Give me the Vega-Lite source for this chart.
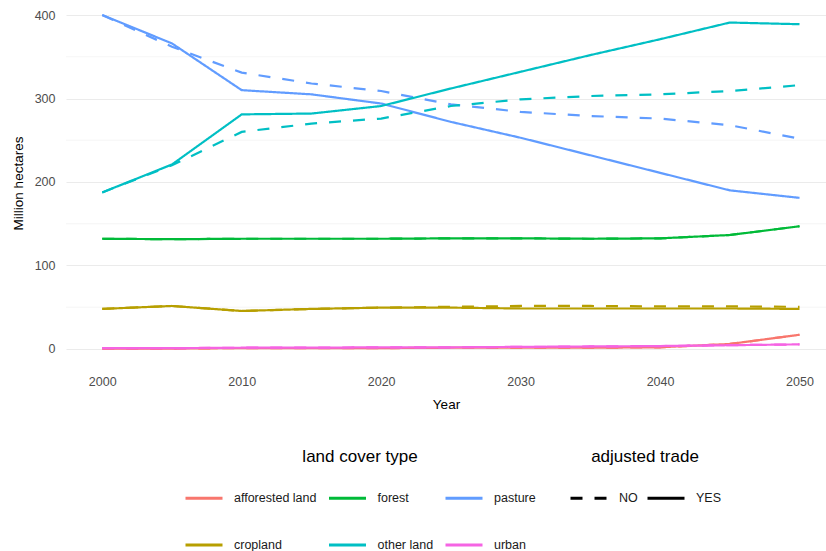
{
  "$schema": "https://vega.github.io/schema/vega-lite/v6.json",
  "width": 760,
  "height": 366,
  "autosize": {"type": "none"},
  "padding": {"left": 66, "top": 0, "right": 0, "bottom": 185},
  "background": "white",
  "config": {"view": {"stroke": null}, "font": "Liberation Sans"},
  "datasets": {
    "minor": [{"value": 50}, {"value": 150}, {"value": 250}, {"value": 350}],
    "lc": [
      {"year": 2000, "type": "afforested land", "trade": "YES", "value": 0.5},
      {"year": 2005, "type": "afforested land", "trade": "YES", "value": 0.5},
      {"year": 2010, "type": "afforested land", "trade": "YES", "value": 1},
      {"year": 2015, "type": "afforested land", "trade": "YES", "value": 1},
      {"year": 2020, "type": "afforested land", "trade": "YES", "value": 1},
      {"year": 2025, "type": "afforested land", "trade": "YES", "value": 1.5},
      {"year": 2030, "type": "afforested land", "trade": "YES", "value": 1.5},
      {"year": 2035, "type": "afforested land", "trade": "YES", "value": 1.5},
      {"year": 2040, "type": "afforested land", "trade": "YES", "value": 2},
      {"year": 2045, "type": "afforested land", "trade": "YES", "value": 6},
      {"year": 2050, "type": "afforested land", "trade": "YES", "value": 17},
      {"year": 2000, "type": "afforested land", "trade": "NO", "value": 0.5},
      {"year": 2005, "type": "afforested land", "trade": "NO", "value": 0.5},
      {"year": 2010, "type": "afforested land", "trade": "NO", "value": 1},
      {"year": 2015, "type": "afforested land", "trade": "NO", "value": 1},
      {"year": 2020, "type": "afforested land", "trade": "NO", "value": 1},
      {"year": 2025, "type": "afforested land", "trade": "NO", "value": 1.5},
      {"year": 2030, "type": "afforested land", "trade": "NO", "value": 1.5},
      {"year": 2035, "type": "afforested land", "trade": "NO", "value": 1.5},
      {"year": 2040, "type": "afforested land", "trade": "NO", "value": 2},
      {"year": 2045, "type": "afforested land", "trade": "NO", "value": 6},
      {"year": 2050, "type": "afforested land", "trade": "NO", "value": 17},
      {"year": 2000, "type": "urban", "trade": "YES", "value": 1},
      {"year": 2005, "type": "urban", "trade": "YES", "value": 1},
      {"year": 2010, "type": "urban", "trade": "YES", "value": 1.5},
      {"year": 2015, "type": "urban", "trade": "YES", "value": 1.5},
      {"year": 2020, "type": "urban", "trade": "YES", "value": 2},
      {"year": 2025, "type": "urban", "trade": "YES", "value": 2},
      {"year": 2030, "type": "urban", "trade": "YES", "value": 2.5},
      {"year": 2035, "type": "urban", "trade": "YES", "value": 3},
      {"year": 2040, "type": "urban", "trade": "YES", "value": 3.5},
      {"year": 2045, "type": "urban", "trade": "YES", "value": 4.5},
      {"year": 2050, "type": "urban", "trade": "YES", "value": 5.5},
      {"year": 2000, "type": "urban", "trade": "NO", "value": 1},
      {"year": 2005, "type": "urban", "trade": "NO", "value": 1},
      {"year": 2010, "type": "urban", "trade": "NO", "value": 1.5},
      {"year": 2015, "type": "urban", "trade": "NO", "value": 1.5},
      {"year": 2020, "type": "urban", "trade": "NO", "value": 2},
      {"year": 2025, "type": "urban", "trade": "NO", "value": 2},
      {"year": 2030, "type": "urban", "trade": "NO", "value": 2.5},
      {"year": 2035, "type": "urban", "trade": "NO", "value": 3},
      {"year": 2040, "type": "urban", "trade": "NO", "value": 3.5},
      {"year": 2045, "type": "urban", "trade": "NO", "value": 4.5},
      {"year": 2050, "type": "urban", "trade": "NO", "value": 5.5},
      {"year": 2000, "type": "forest", "trade": "YES", "value": 132},
      {"year": 2005, "type": "forest", "trade": "YES", "value": 131.5},
      {"year": 2010, "type": "forest", "trade": "YES", "value": 132},
      {"year": 2015, "type": "forest", "trade": "YES", "value": 132},
      {"year": 2020, "type": "forest", "trade": "YES", "value": 132},
      {"year": 2025, "type": "forest", "trade": "YES", "value": 132.5},
      {"year": 2030, "type": "forest", "trade": "YES", "value": 132.5},
      {"year": 2035, "type": "forest", "trade": "YES", "value": 132},
      {"year": 2040, "type": "forest", "trade": "YES", "value": 132.5},
      {"year": 2045, "type": "forest", "trade": "YES", "value": 136.5},
      {"year": 2050, "type": "forest", "trade": "YES", "value": 147},
      {"year": 2000, "type": "forest", "trade": "NO", "value": 132},
      {"year": 2005, "type": "forest", "trade": "NO", "value": 131.5},
      {"year": 2010, "type": "forest", "trade": "NO", "value": 132},
      {"year": 2015, "type": "forest", "trade": "NO", "value": 132},
      {"year": 2020, "type": "forest", "trade": "NO", "value": 132},
      {"year": 2025, "type": "forest", "trade": "NO", "value": 132.5},
      {"year": 2030, "type": "forest", "trade": "NO", "value": 132.5},
      {"year": 2035, "type": "forest", "trade": "NO", "value": 132},
      {"year": 2040, "type": "forest", "trade": "NO", "value": 132.5},
      {"year": 2045, "type": "forest", "trade": "NO", "value": 136.5},
      {"year": 2050, "type": "forest", "trade": "NO", "value": 147},
      {"year": 2000, "type": "cropland", "trade": "YES", "value": 48},
      {"year": 2005, "type": "cropland", "trade": "YES", "value": 51.5},
      {"year": 2010, "type": "cropland", "trade": "YES", "value": 45.5},
      {"year": 2015, "type": "cropland", "trade": "YES", "value": 48},
      {"year": 2020, "type": "cropland", "trade": "YES", "value": 49.5},
      {"year": 2025, "type": "cropland", "trade": "YES", "value": 49.5},
      {"year": 2030, "type": "cropland", "trade": "YES", "value": 48.5},
      {"year": 2035, "type": "cropland", "trade": "YES", "value": 48.5},
      {"year": 2040, "type": "cropland", "trade": "YES", "value": 48.5},
      {"year": 2045, "type": "cropland", "trade": "YES", "value": 48.5},
      {"year": 2050, "type": "cropland", "trade": "YES", "value": 48},
      {"year": 2000, "type": "cropland", "trade": "NO", "value": 48},
      {"year": 2005, "type": "cropland", "trade": "NO", "value": 51.5},
      {"year": 2010, "type": "cropland", "trade": "NO", "value": 45.5},
      {"year": 2015, "type": "cropland", "trade": "NO", "value": 48},
      {"year": 2020, "type": "cropland", "trade": "NO", "value": 49.5},
      {"year": 2025, "type": "cropland", "trade": "NO", "value": 50.5},
      {"year": 2030, "type": "cropland", "trade": "NO", "value": 51.5},
      {"year": 2035, "type": "cropland", "trade": "NO", "value": 51.5},
      {"year": 2040, "type": "cropland", "trade": "NO", "value": 51},
      {"year": 2045, "type": "cropland", "trade": "NO", "value": 51},
      {"year": 2050, "type": "cropland", "trade": "NO", "value": 50.5},
      {"year": 2000, "type": "pasture", "trade": "YES", "value": 400},
      {"year": 2005, "type": "pasture", "trade": "YES", "value": 366},
      {"year": 2010, "type": "pasture", "trade": "YES", "value": 310},
      {"year": 2015, "type": "pasture", "trade": "YES", "value": 305},
      {"year": 2020, "type": "pasture", "trade": "YES", "value": 294},
      {"year": 2025, "type": "pasture", "trade": "YES", "value": 272},
      {"year": 2030, "type": "pasture", "trade": "YES", "value": 253},
      {"year": 2035, "type": "pasture", "trade": "YES", "value": 232},
      {"year": 2040, "type": "pasture", "trade": "YES", "value": 211},
      {"year": 2045, "type": "pasture", "trade": "YES", "value": 190},
      {"year": 2050, "type": "pasture", "trade": "YES", "value": 181},
      {"year": 2000, "type": "pasture", "trade": "NO", "value": 400},
      {"year": 2005, "type": "pasture", "trade": "NO", "value": 362},
      {"year": 2010, "type": "pasture", "trade": "NO", "value": 331},
      {"year": 2015, "type": "pasture", "trade": "NO", "value": 318},
      {"year": 2020, "type": "pasture", "trade": "NO", "value": 309},
      {"year": 2025, "type": "pasture", "trade": "NO", "value": 293},
      {"year": 2030, "type": "pasture", "trade": "NO", "value": 284},
      {"year": 2035, "type": "pasture", "trade": "NO", "value": 279},
      {"year": 2040, "type": "pasture", "trade": "NO", "value": 276},
      {"year": 2045, "type": "pasture", "trade": "NO", "value": 268},
      {"year": 2050, "type": "pasture", "trade": "NO", "value": 252},
      {"year": 2000, "type": "other land", "trade": "YES", "value": 187.5},
      {"year": 2005, "type": "other land", "trade": "YES", "value": 221},
      {"year": 2010, "type": "other land", "trade": "YES", "value": 281},
      {"year": 2015, "type": "other land", "trade": "YES", "value": 282},
      {"year": 2020, "type": "other land", "trade": "YES", "value": 291},
      {"year": 2025, "type": "other land", "trade": "YES", "value": 312},
      {"year": 2030, "type": "other land", "trade": "YES", "value": 332},
      {"year": 2035, "type": "other land", "trade": "YES", "value": 352},
      {"year": 2040, "type": "other land", "trade": "YES", "value": 371},
      {"year": 2045, "type": "other land", "trade": "YES", "value": 391},
      {"year": 2050, "type": "other land", "trade": "YES", "value": 389},
      {"year": 2000, "type": "other land", "trade": "NO", "value": 187.5},
      {"year": 2005, "type": "other land", "trade": "NO", "value": 220},
      {"year": 2010, "type": "other land", "trade": "NO", "value": 260},
      {"year": 2015, "type": "other land", "trade": "NO", "value": 270},
      {"year": 2020, "type": "other land", "trade": "NO", "value": 276},
      {"year": 2025, "type": "other land", "trade": "NO", "value": 291},
      {"year": 2030, "type": "other land", "trade": "NO", "value": 299},
      {"year": 2035, "type": "other land", "trade": "NO", "value": 303},
      {"year": 2040, "type": "other land", "trade": "NO", "value": 305},
      {"year": 2045, "type": "other land", "trade": "NO", "value": 309},
      {"year": 2050, "type": "other land", "trade": "NO", "value": 316}
    ]
  },
  "layer": [
    {
      "data": {"name": "minor"},
      "mark": {"type": "rule", "stroke": "#EEEEEE", "strokeWidth": 0.6},
      "encoding": {
        "y": {"field": "value", "type": "quantitative", "scale": {"domain": [-20.4, 418], "nice": false, "zero": false}}
      }
    },
    {
      "data": {"name": "lc"},
      "mark": {"type": "line", "strokeWidth": 2.2},
      "encoding": {
        "x": {
          "field": "year", "type": "quantitative",
          "scale": {"domain": [1997.4, 2051.9], "nice": false, "zero": false},
          "axis": {"title": "Year", "values": [2000, 2010, 2020, 2030, 2040, 2050], "format": "d", "grid": false, "domain": false, "ticks": false, "labelPadding": 9, "labelFontSize": 12.5, "labelColor": "#4D4D4D", "titleFontSize": 13.5, "titleFontWeight": "normal", "titleColor": "black", "titlePadding": 10}
        },
        "y": {
          "field": "value", "type": "quantitative",
          "scale": {"domain": [-20.4, 418], "nice": false, "zero": false},
          "axis": {"title": "Million hectares", "values": [0, 100, 200, 300, 400], "grid": true, "gridColor": "#EBEBEB", "gridWidth": 1.2, "domain": false, "ticks": false, "labelPadding": 11, "labelFontSize": 12.5, "labelColor": "#4D4D4D", "titleFontSize": 13.5, "titleFontWeight": "normal", "titleColor": "black", "titlePadding": 9}
        },
        "color": {
          "field": "type", "type": "nominal",
          "scale": {"domain": ["afforested land", "cropland", "forest", "other land", "pasture", "urban"], "range": ["#F8766D", "#B79F00", "#00BA38", "#00BFC4", "#619CFF", "#F564E3"]},
          "legend": {"title": "land cover type", "orient": "none", "legendX": 118, "legendY": 449, "columns": 3, "gridAlign": "each", "symbolType": "stroke", "symbolSize": 1369, "symbolStrokeWidth": 3, "titleAnchor": "middle", "titleFontSize": 17, "titleFontWeight": "normal", "titleColor": "black", "labelFontSize": 12.5, "labelColor": "#1A1A1A", "rowPadding": 20, "columnPadding": 5.5, "labelOffset": 10, "titlePadding": 12}
        },
        "strokeDash": {
          "field": "trade", "type": "nominal",
          "scale": {"domain": ["NO", "YES"], "range": [[12, 12], [1, 0]]},
          "legend": {"title": "adjusted trade", "orient": "none", "legendX": 503, "legendY": 449, "columns": 2, "gridAlign": "each", "symbolType": "stroke", "symbolSize": 1369, "symbolStrokeWidth": 3, "symbolStrokeColor": "black", "titleAnchor": "middle", "titleFontSize": 17, "titleFontWeight": "normal", "titleColor": "black", "labelFontSize": 12.5, "labelColor": "#1A1A1A", "columnPadding": 3, "labelOffset": 10, "titlePadding": 12}
        }
      }
    }
  ]
}
